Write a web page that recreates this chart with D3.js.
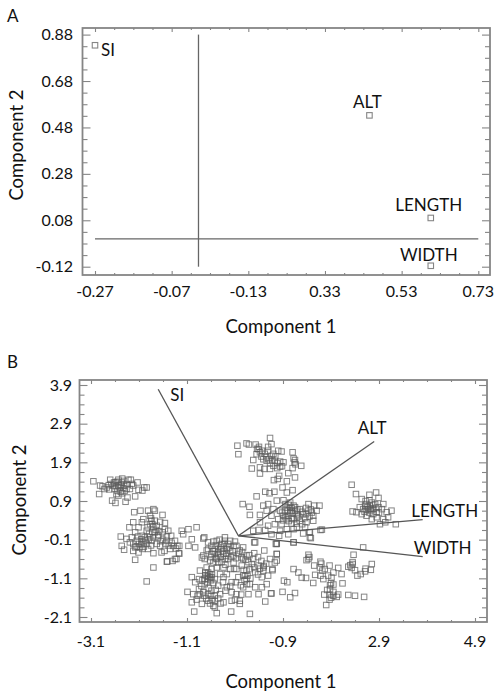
<!DOCTYPE html>
<html>
<head>
<meta charset="utf-8">
<script src="https://cdn.jsdelivr.net/npm/d3@7"></script>
<style>
  html, body { margin: 0; background: #fff; }
  text { font-family: Lato, "Open Sans", sans-serif; fill: #111; }
  .marks { filter: blur(0.45px); }
</style>
</head>
<body>
<svg id="biplots" width="494" height="694"></svg>
<script>
// panel A: loadings
const loadingNames = ["SI", "ALT", "LENGTH", "WIDTH"];
const loadingX = [-0.27, 0.446, 0.606, 0.606];
const loadingY = [0.834, 0.532, 0.09, -0.116];
const aTicksX = [-0.27, -0.07, 0.13, 0.33, 0.53, 0.73];
const aTickLabelsX = ["-0.27", "-0.07", "-0.13", "0.33", "0.53", "0.73"];
const aTicksY = [-0.12, 0.08, 0.28, 0.48, 0.68, 0.88];
const aTickLabelsY = ["-0.12", "0.08", "0.28", "0.48", "0.68", "0.88"];

// panel B: vector ends, all start at the origin
const vectorNames = ["SI", "ALT", "LENGTH", "WIDTH"];
const vectorX = [-1.70, 2.80, 3.81, 3.81];
const vectorY = [3.79, 2.44, 0.42, -0.54];
const bTicksX = [-3.1, -1.1, 0.9, 2.9, 4.9];
const bTickLabelsX = ["-3.1", "-1.1", "-0.9", "2.9", "4.9"];
const bTicksY = [-2.1, -1.1, -0.1, 0.9, 1.9, 2.9, 3.9];
const bTickLabelsY = ["-2.1", "-1.1", "-0.1", "0.9", "1.9", "2.9", "3.9"];

// panel B scores
const scoresUpperLeft = [
  [-3.05,1.41],[-2.91,1.30],[-2.86,1.28],[-2.93,1.08],[-2.70,1.45],[-2.68,1.34],[-2.77,1.25],[-2.82,1.21],
  [-2.59,1.38],[-2.53,1.45],[-2.45,1.48],[-2.46,1.38],[-2.41,1.30],[-2.32,1.45],[-2.27,1.45],[-2.13,1.38],
  [-2.22,1.30],[-1.99,1.25],[-1.94,1.25],[-2.03,1.17],[-2.18,1.02],[-2.36,1.21],[-2.50,1.25],[-2.57,1.08],
  [-2.66,0.91],[-2.59,0.85],[-2.38,0.88],[-2.34,0.99],[-2.45,1.10],[-2.29,1.21],[-2.53,1.30],[-2.61,1.21],
  [-2.73,1.31],[-2.41,1.42],[-2.25,1.34],[-2.53,1.04],[-2.11,1.19],
  [-2.64,1.30],[-2.58,1.28],[-2.48,1.32],[-2.43,1.23],[-2.55,1.16],[-2.48,1.14],[-2.40,1.16],[-2.62,1.38],
  [-2.35,1.33],[-2.55,1.40],[-2.72,1.20]
];
const scoresLeft = [
  [-2.20,0.61],[-2.07,0.65],[-1.80,0.69],[-1.77,0.65],[-1.87,0.52],[-1.61,0.54],[-2.22,0.35],[-2.30,0.22],
  [-2.48,-0.02],[-2.46,-0.26],[-2.41,-0.36],[-1.80,-0.45],[-2.18,-0.62],[-1.52,-0.67],[-1.40,-0.65],[-1.32,-0.60],
  [-1.27,-0.45],[-1.26,-0.26],[-1.35,-0.13],[-1.43,0.00],[-1.49,0.13],[-1.56,0.33],[-1.66,0.36],[-1.77,0.39],
  [-1.87,0.30],[-2.01,0.43],[-2.11,0.22],[-2.18,0.09],[-2.25,-0.04],[-2.29,-0.17],[-2.18,-0.30],[-2.11,-0.43],
  [-2.03,-0.34],[-1.94,-0.21],[-1.87,-0.04],[-1.77,0.09],[-1.70,-0.04],[-1.61,0.09],[-1.80,0.22],[-1.94,0.13],
  [-2.04,0.00],[-2.15,-0.13],[-1.91,-0.34],[-1.66,-0.26],[-1.57,-0.39],[-1.45,-0.34],[-1.52,-0.13],[-1.39,-0.26],
  [-1.84,-0.13],[-1.73,-0.21],[-2.01,-0.17],[-2.22,-0.39],[-2.36,-0.08],[-2.04,0.35],[-1.91,0.65],[-1.56,0.17],
  [-1.63,-0.43],[-2.08,-0.30],[-1.98,-0.04],[-1.84,0.39],[-1.73,0.26],[-1.89,0.05],[-2.10,-0.21],[-1.80,-0.04],
  [-2.22,-0.21],
  [-1.85,0.45],[-1.82,0.30],[-1.92,0.22],[-1.75,0.15],[-1.68,0.12],[-1.90,-0.10],[-1.97,-0.12],[-2.05,-0.09],
  [-2.12,-0.02],[-2.05,-0.22],[-2.00,-0.28],[-1.60,-0.10],[-1.55,-0.20],[-1.48,-0.25],[-1.52,-0.02],[-1.42,-0.18],
  [-1.33,-0.33],[-1.70,0.02],[-1.82,0.10],[-2.15,-0.28],[-1.65,-0.14],[-1.85,-0.25],
  // bridge towards the middle and the two strays
  [-1.21,0.13],[-1.07,0.17],[-0.90,0.22],[-1.18,0.04],[-1.00,-0.09],[-0.93,-0.30],[-1.07,-0.26],[-1.30,-0.26],
  [-1.26,-0.46],[-1.35,-0.60],[-1.51,-0.66],[-0.76,-0.07],[-1.80,-0.82],[-1.94,-1.18]
];
const scoresLowerMiddle = [
  [-0.74,-0.04],[-0.66,-0.17],[-0.76,-0.51],[-0.79,-0.56],[-0.69,-0.38],[-0.59,-0.26],[-0.48,-0.13],[-0.31,-0.04],
  [-0.20,-0.13],[-0.07,-0.26],[0.07,-0.30],[0.32,-0.17],[0.77,-0.21],[0.51,-0.38],[0.77,-0.47],[0.63,-0.60],
  [0.77,-0.64],[0.68,-0.86],[0.49,-0.82],[0.28,-0.60],[0.14,-0.51],[-0.03,-0.47],[-0.20,-0.38],[-0.38,-0.34],
  [-0.52,-0.47],[-0.62,-0.64],[-0.45,-0.69],[-0.31,-0.60],[-0.13,-0.69],[0.04,-0.77],[0.21,-0.86],[0.32,-0.94],
  [0.46,-1.07],[0.59,-1.03],[0.46,-1.33],[0.56,-1.25],[0.39,-1.51],[0.65,-1.49],[0.53,-1.70],[0.21,-2.02],
  [0.00,-1.76],[0.03,-1.52],[-0.17,-1.68],[-0.18,-1.96],[-0.48,-2.00],[-0.95,-1.96],[-1.00,-1.72],[-1.09,-1.45],
  [-0.97,-1.51],[-0.79,-1.76],[-0.55,-1.81],[-0.74,-1.55],[-0.59,-1.42],[-0.41,-1.51],[-0.27,-1.33],[-0.17,-1.20],
  [-0.03,-1.07],[0.11,-1.03],[0.21,-1.25],[0.32,-1.33],[-0.83,-0.90],[-0.93,-1.20],[-1.00,-1.07],[-0.69,-1.03],
  [-0.59,-1.07],[-0.52,-1.12],[-0.41,-0.99],[-0.27,-0.99],[-0.07,-1.51],[-0.34,-1.72],[-0.52,-1.68],[-0.66,-1.68],
  [-0.85,-1.38],[-0.73,-1.25],[-0.45,-1.29],[0.07,-1.33],[0.18,-1.51],[-0.48,-0.82],[-0.34,-0.82],[-0.69,-0.82],
  [-0.27,-0.34],[-0.13,-0.51],[-0.45,-0.51],[-0.59,-0.47],[-0.66,-0.34],[-0.55,-0.69],[0.07,-0.60],[0.25,-0.73],
  [0.39,-0.77],[0.49,-0.90],[0.14,-1.12],[-0.66,-1.12],[-0.62,-0.99],[-0.76,-1.46],[-0.52,-1.85],[-0.13,-0.26],
  [-0.38,-0.21],[-0.31,-0.13],[-0.52,-0.34],[-0.73,-0.60],[-0.07,-0.86],[-0.20,-0.86],[-0.34,-1.07],[-0.17,-1.46],
  [0.00,-1.68],[0.14,-0.90],[-0.45,-0.34],[-0.34,-0.47],[-0.24,-0.60],[-0.48,-0.60],[-0.59,-0.86],[-0.66,-0.95],
  [-0.73,-1.12],[-0.83,-1.51],[-0.66,-1.51],[-0.52,-1.55],[0.07,-1.03],[0.16,-1.03],[0.04,-0.56],[-0.24,-0.21],
  // upper core
  [-0.55,-0.15],[-0.50,-0.25],[-0.42,-0.10],[-0.40,-0.30],[-0.33,-0.22],[-0.28,-0.45],[-0.22,-0.30],[-0.15,-0.40],
  [-0.10,-0.15],[-0.35,-0.40],[-0.45,-0.42],[-0.55,-0.40],[-0.60,-0.55],[-0.50,-0.58],[-0.40,-0.55],[-0.28,-0.52],
  [-0.18,-0.55],[-0.08,-0.58],[0.00,-0.38],[0.05,-0.42],[0.12,-0.62],[0.20,-0.50],[0.30,-0.45],[0.38,-0.55],
  [0.45,-0.65],[0.55,-0.72],[0.18,-0.68],[-0.38,-0.68],[-0.30,-0.75],[-0.12,-0.85],[0.08,-0.88],[0.30,-0.82],
  [0.38,-1.00],[0.42,-0.85],[0.50,-0.78],
  // lower core
  [-0.72,-1.02],[-0.66,-1.05],[-0.62,-1.08],[-0.72,-0.95],[-0.58,-1.00],[-0.60,-1.15],[-0.68,-1.20],[-0.55,-1.22],
  [-0.78,-1.15],[-0.85,-1.12],[-0.80,-1.30],[-0.65,-1.35],[-0.50,-1.40],[-0.60,-1.55],[-0.70,-1.62],[-0.58,-1.65],
  [-0.45,-1.62],[-0.40,-1.75],[-0.62,-1.75],[-0.88,-1.55],[-0.90,-1.65],[-0.30,-1.42],[-0.20,-1.30],[-0.35,-1.20],
  [-0.08,-1.20],[0.02,-1.28],[0.10,-1.15],[0.15,-1.25],[0.22,-1.10],[-0.10,-1.65]
];
const scoresUpperMiddle = [
  [0.63,2.53],[0.66,2.37],[-0.05,2.33],[-0.03,2.11],[0.14,2.39],[0.19,2.36],[0.33,2.36],[0.39,2.24],
  [0.35,2.11],[0.28,1.96],[0.25,1.74],[0.42,1.77],[0.42,1.61],[0.51,1.73],[0.59,2.30],[0.59,2.20],
  [0.66,2.07],[0.80,2.20],[0.87,2.18],[0.73,1.94],[0.70,1.81],[0.91,1.90],[0.63,1.73],[0.84,1.79],
  [0.56,1.94],[0.49,1.98],[0.42,2.16],[1.10,2.16],[1.15,1.96],[1.14,1.90],[1.28,1.81],[1.10,1.75],
  [1.01,1.62],[1.15,1.51],[0.82,1.55],[0.79,1.47],[0.71,1.44],[0.98,1.41],[0.89,1.25],[0.98,1.12],
  [1.10,1.18],[0.72,1.14],[0.62,1.10],[0.53,1.14],[0.35,1.02],
  [0.45,2.05],[0.52,2.12],[0.55,2.03],[0.60,1.98],[0.63,1.88],[0.68,1.95],[0.74,2.05],[0.78,1.88],
  [0.84,1.92],[0.78,1.75],[0.88,1.80],[0.40,2.30],[0.46,2.20],[0.36,2.25],[0.70,2.12],[1.12,2.00],[1.16,1.85]
];
const scoresCentre = [
  [0.06,0.82],[0.20,0.75],[0.21,0.54],[0.42,0.54],[0.49,0.78],[0.59,0.82],[0.77,0.91],[0.91,0.92],
  [1.05,0.86],[0.70,0.69],[0.84,0.65],[0.98,0.73],[1.12,0.78],[1.25,0.69],[1.43,0.82],[1.55,0.78],
  [1.66,0.78],[1.53,0.52],[1.43,0.65],[1.32,0.56],[1.19,0.56],[1.05,0.61],[0.91,0.52],[0.80,0.43],
  [0.98,0.43],[1.12,0.43],[1.25,0.39],[1.39,0.35],[1.53,0.39],[0.66,0.52],[0.56,0.65],[0.42,0.35],
  [0.59,0.26],[0.73,0.30],[0.87,0.30],[0.53,0.15],[0.39,0.15],[0.28,0.13],[0.66,0.04],[0.82,0.00],
  [1.01,0.04],[1.19,0.22],[1.32,0.06],[1.46,0.09],[1.48,-0.06],[1.71,0.16],[1.12,-0.17],[0.77,-0.20],
  [0.30,-0.17],[0.98,0.17],[1.12,0.17],[1.36,0.22],[0.84,0.13],[1.08,0.65],[1.01,0.52],[1.15,0.65],
  [0.94,0.65],[1.05,0.73],[1.19,0.46],[1.36,0.46],[1.68,0.15],[1.45,0.09],[1.46,-0.04],
  [0.95,0.82],[1.02,0.80],[1.08,0.72],[1.15,0.74],[1.20,0.68],[1.10,0.58],[1.22,0.50],[1.30,0.62],
  [1.38,0.72],[1.48,0.68],[1.45,0.50],[1.38,0.56],[0.88,0.60],[0.95,0.48],[1.02,0.38],[0.90,0.40],
  [1.08,0.32],[1.18,0.32],[1.30,0.30],[1.50,0.60],[1.60,0.65],[1.00,0.65],[1.08,0.45]
];
const scoresRight = [
  [2.33,1.32],[2.42,1.08],[2.70,1.06],[2.84,1.12],[2.89,0.98],[2.54,0.95],[2.64,0.82],[2.75,0.86],
  [2.99,0.82],[2.96,0.69],[3.16,0.65],[3.09,0.48],[2.35,0.63],[2.43,0.61],[2.50,0.74],[2.57,0.69],
  [2.68,0.69],[2.78,0.69],[2.85,0.61],[2.54,0.56],[2.64,0.52],[2.75,0.43],[2.85,0.48],[2.99,0.43],
  [3.03,0.35],[2.92,0.30],[3.25,0.30],[3.06,0.61],[2.71,0.78],[2.61,0.78],[2.82,0.82],[2.89,0.74],
  [2.62,0.90],[2.70,0.92],[2.66,0.74],[2.72,0.70],[2.78,0.80],[2.60,0.62],[2.70,0.60],[2.78,0.56],
  [2.84,0.72],[2.90,0.60],[2.64,0.68],[2.74,0.66]
];
const scoresLowerRight = [
  [0.75,-0.21],[0.77,-0.47],[0.73,-0.69],[0.68,-0.89],[0.92,-1.16],[0.99,-1.20],[0.89,-1.45],[0.66,-1.49],
  [1.15,-1.48],[1.05,-1.59],[1.12,-0.86],[1.22,-0.95],[1.29,-1.08],[1.38,-1.09],[1.43,-0.49],[1.39,-0.63],
  [1.55,-0.77],[1.68,-0.67],[1.67,-0.82],[1.77,-0.86],[1.87,-0.77],[2.05,-0.83],[1.95,-0.95],[1.84,-1.03],
  [1.57,-1.01],[1.53,-1.22],[1.74,-1.12],[1.68,-1.03],[1.91,-1.08],[2.12,-0.99],[2.14,-1.23],[1.95,-1.26],
  [1.88,-1.38],[1.76,-1.52],[1.87,-1.53],[2.05,-1.52],[1.95,-1.55],[1.87,-1.65],[1.80,-1.79],[2.26,-1.53],
  [2.40,-1.55],[2.59,-1.58],[2.37,-0.49],[2.57,-0.30],[2.35,-0.73],[2.26,-0.80],[2.33,-0.83],[2.75,-0.73],
  [2.73,-0.88],[2.61,-0.92],[2.52,-0.99],[2.45,-1.03],[2.40,-0.89],[1.12,-0.17],
  [1.45,-0.55],[1.43,-0.60],[1.70,-0.72],[1.72,-0.90],[1.90,-1.22],[1.88,-1.28],[1.95,-1.45],[1.82,-1.40],
  [1.90,-1.60],[2.02,-1.58],[2.35,-0.68],[2.30,-0.76],[2.62,-0.85]
];
const scores = [].concat(scoresUpperLeft, scoresLeft, scoresLowerMiddle, scoresUpperMiddle,
  scoresCentre, scoresRight, scoresLowerRight);

const svg = d3.select("#biplots");
const FRAME = "#858585";
const MARK = "#5c5c5c";

run();

function run () {
  const a = setupPanel({
    letterY: 22, frame: {left: 82.5, right: 490, top: 28, bottom: 275},
    xRange: [95, 478.3], yRange: [266.7, 34.6],
    ticksX: aTicksX, labelsX: aTickLabelsX, ticksY: aTicksY, labelsY: aTickLabelsY,
    letter: "A", xTitleX: 281, xTitleY: 333, xTickY: 297, yTitleX: 23, yTitleMid: 145, yLabelX: 73
  });
  // cross through zero
  a.g.append("line").attr("x1", a.x(aTicksX[0])).attr("x2", a.x(aTicksX[5]))
    .attr("y1", a.y(0)).attr("y2", a.y(0));
  a.g.append("line").attr("x1", a.x(0)).attr("x2", a.x(0))
    .attr("y1", a.y(aTicksY[0])).attr("y2", a.y(aTicksY[5]));
  a.g.selectAll("line").attr("stroke", "#666").attr("stroke-width", 1.3);
  drawSquares(a.g, loadingNames.map((n, i) => [loadingX[i], loadingY[i]]), a, 1.1);

  const aLabelOffset = {SI: [6, 11], ALT: [-2, -7], LENGTH: [-2, -7], WIDTH: [-2, -5]};
  svg.selectAll(".aLabel").data(loadingNames).join("text")
    .attr("class", "aLabel")
    .attr("x", (d, i) => a.x(loadingX[i]) + aLabelOffset[d][0])
    .attr("y", (d, i) => a.y(loadingY[i]) + aLabelOffset[d][1])
    .attr("text-anchor", d => d === "SI" ? "start" : "middle")
    .attr("font-size", 17)
    .text(d => d);

  const b = setupPanel({
    letterY: 368, frame: {left: 79.5, right: 487, top: 380, bottom: 622},
    xRange: [91, 475], yRange: [617, 385],
    ticksX: bTicksX, labelsX: bTickLabelsX, ticksY: bTicksY, labelsY: bTickLabelsY,
    letter: "B", xTitleX: 281, xTitleY: 688, xTickY: 647, yTitleX: 26, yTitleMid: 500, yLabelX: 72
  });
  drawSquares(b.g, scores, b, 1);
  b.g.selectAll(".vector").data(vectorNames).join("line")
    .attr("class", "vector")
    .attr("x1", b.x(-0.03)).attr("y1", b.y(0))
    .attr("x2", (d, i) => b.x(vectorX[i]))
    .attr("y2", (d, i) => b.y(vectorY[i]))
    .attr("stroke", "#555").attr("stroke-width", 1.3);

  const bLabelOffset = {SI: [19, 12], ALT: [-2, -7], LENGTH: [22, -3], WIDTH: [20, -3]};
  svg.selectAll(".bLabel").data(vectorNames).join("text")
    .attr("class", "bLabel")
    .attr("x", (d, i) => b.x(vectorX[i]) + bLabelOffset[d][0])
    .attr("y", (d, i) => b.y(vectorY[i]) + bLabelOffset[d][1])
    .attr("text-anchor", "middle")
    .attr("font-size", 17)
    .text(d => d);
}

function setupPanel (p) {
  const x = d3.scaleLinear().domain([p.ticksX[0], p.ticksX[p.ticksX.length - 1]]).range(p.xRange);
  const y = d3.scaleLinear().domain([p.ticksY[0], p.ticksY[p.ticksY.length - 1]]).range(p.yRange);
  const f = p.frame;

  // ticks point inward on all four sides
  drawTicks(d3.axisBottom(x), p.ticksX, f.bottom, null, 4, 2);
  drawTicks(d3.axisTop(x), p.ticksX, f.top, null, 4, 2);
  drawTicks(d3.axisLeft(y), p.ticksY, null, f.left, 8, 5);
  drawTicks(d3.axisRight(y), p.ticksY, null, f.right, 8, 5);

  svg.append("rect")
    .attr("class", "marks")
    .attr("x", f.left).attr("y", f.top)
    .attr("width", f.right - f.left).attr("height", f.bottom - f.top)
    .attr("fill", "none").attr("stroke", FRAME).attr("stroke-width", 1.8);

  svg.selectAll(".none").data(p.labelsX).join("text")
    .attr("x", (d, i) => x(p.ticksX[i])).attr("y", p.xTickY)
    .attr("text-anchor", "middle").attr("font-size", 16)
    .text(d => d);
  svg.selectAll(".none").data(p.labelsY).join("text")
    .attr("x", p.yLabelX).attr("y", (d, i) => y(p.ticksY[i]) + 5.5)
    .attr("text-anchor", "end").attr("font-size", 16)
    .text(d => d);

  svg.append("text").attr("x", 7).attr("y", p.letterY).attr("font-size", 17).text(p.letter);
  svg.append("text")
    .attr("x", p.xTitleX).attr("y", p.xTitleY)
    .attr("text-anchor", "middle").attr("font-size", 18.5)
    .text("Component 1");
  svg.append("text")
    .attr("transform", "translate(" + p.yTitleX + "," + p.yTitleMid + ") rotate(-90)")
    .attr("text-anchor", "middle").attr("font-size", 18.5)
    .text("Component 2");

  return {x, y, g: svg.append("g").attr("class", "marks")};
}

function drawTicks (axis, majors, top, left, majorSize, minorSize) {
  const step = (majors[1] - majors[0]) / 4;
  const minors = [];
  majors.slice(1).forEach(m => [3, 2, 1].forEach(k => minors.push(m - k * step)));
  const pos = [[majors, majorSize], [minors, minorSize]];
  pos.forEach(([vals, size]) => {
    const g = svg.append("g")
      .attr("class", "marks")
      .attr("transform", "translate(" + (left === null ? 0 : left) + "," + (top === null ? 0 : top) + ")")
      .call(axis.tickValues(vals).tickSize(-size).tickFormat(""));
    g.select(".domain").remove();
    g.selectAll("line").attr("stroke", FRAME).attr("stroke-width", 1.1);
  });
}

function drawSquares (g, points, panel, width) {
  const size = 5.5;
  g.append("g").selectAll("rect").data(points).join("rect")
    .attr("x", d => panel.x(d[0]) - size / 2)
    .attr("y", d => panel.y(d[1]) - size / 2)
    .attr("width", size).attr("height", size)
    .attr("fill", "none")
    .attr("stroke", MARK)
    .attr("stroke-opacity", 0.75)
    .attr("stroke-width", width);
}
</script>
</body>
</html>
